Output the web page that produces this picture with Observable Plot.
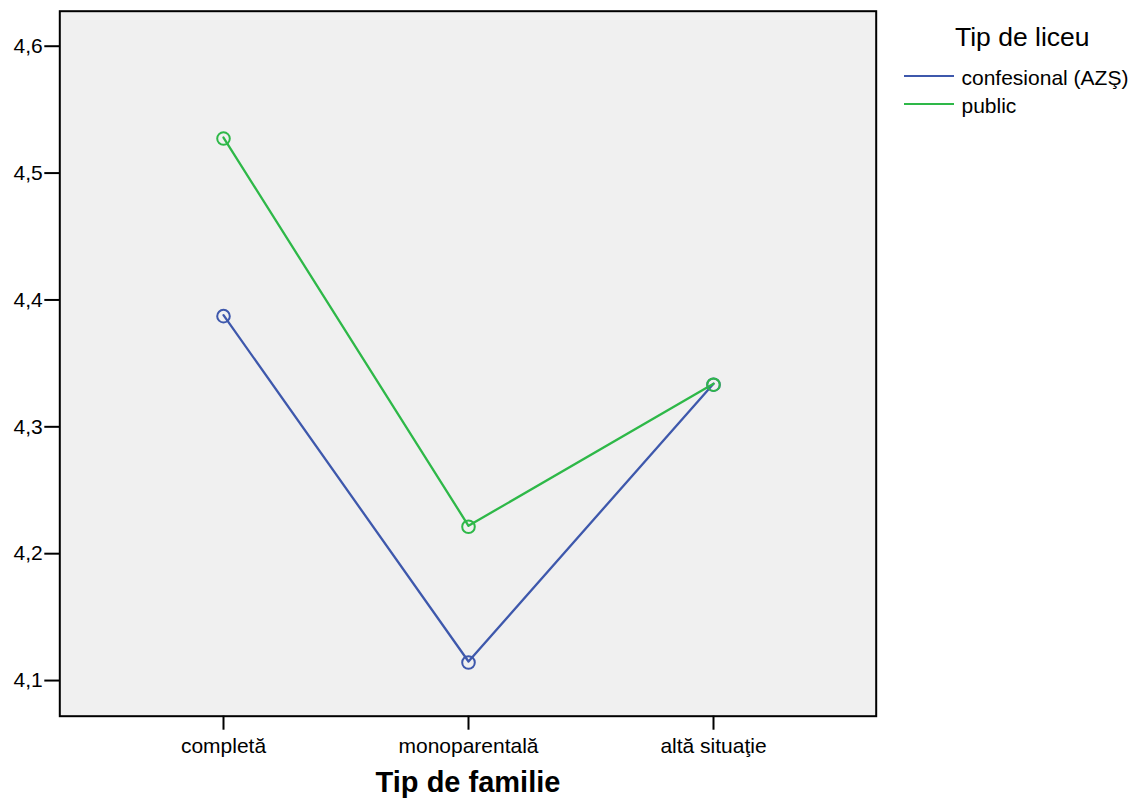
<!DOCTYPE html>
<html><head><meta charset="utf-8">
<script src="https://cdn.jsdelivr.net/npm/d3@7"></script>
<script src="https://cdn.jsdelivr.net/npm/@observablehq/plot@0.6"></script>
<style>
body{margin:0;background:#fff;font-family:"Liberation Sans",Arial,sans-serif;}
#wrap{position:relative;width:1147px;height:798px;}
.lg{position:absolute;white-space:nowrap;line-height:1;color:#000;}
.sw{position:absolute;height:2px;width:50px;}
</style></head><body><div id="wrap"><div id="chart"></div></div>
<script>
const categories = ["completă", "monoparentală", "altă situaţie"];
const seriesNames = ["confesional (AZŞ)", "public"];
const confesional = [4.388, 4.115, 4.334];
const publicVals = [4.528, 4.222, 4.334];
const yTicks = [4.1, 4.2, 4.3, 4.4, 4.5, 4.6];
const colors = ["#3e58ac", "#2eb848"];
const xTitle = "Tip de familie";
const legendTitle = "Tip de liceu";

const rows = [];
seriesNames.forEach((s, si) => {
  const vals = si === 0 ? confesional : publicVals;
  categories.forEach((c, i) => rows.push({cat: c, val: vals[i], s}));
});

const chart = Plot.plot({
  width: 1147,
  height: 798,
  marginLeft: 59.3,
  marginRight: 271.3,
  marginTop: 10.7,
  marginBottom: 82.3,
  style: {fontFamily: "Liberation Sans, Arial, sans-serif", background: "white", color: "black"},
  x: {type: "point", domain: categories, padding: 0.666, axis: null},
  y: {domain: [4.0719, 4.6276], axis: null},
  color: {domain: seriesNames, range: colors},
  marks: [
    Plot.frame({fill: "#f0f0f0", stroke: "none"}),
    Plot.line(rows, {x: "cat", y: "val", stroke: "s", z: "s", strokeWidth: 2.3}),
    Plot.dot(rows, {x: "cat", y: "val", stroke: "s", r: 6.3, strokeWidth: 2, dy: 1}),
    Plot.frame({stroke: "black", strokeWidth: 2}),
    Plot.axisY({ticks: yTicks, tickFormat: d => d3.format(".1f")(d).replace(".", ","), tickSize: 15, tickPadding: 2, fontSize: 21, strokeWidth: 2, label: null}),
    Plot.axisX({tickSize: 14, tickPadding: 8, fontSize: 21, strokeWidth: 2, label: null}),
    Plot.text([xTitle], {frameAnchor: "bottom", lineAnchor: "bottom", dy: 75.3, fontSize: 29, fontWeight: "bold", text: d => d})
  ]
});
const wrap = document.getElementById("wrap");
document.getElementById("chart").appendChild(chart);

function addText(txt, left, top, size) {
  const d = document.createElement("div");
  d.className = "lg"; d.textContent = txt;
  d.style.left = left + "px"; d.style.top = top + "px"; d.style.fontSize = size + "px";
  wrap.appendChild(d);
}
addText(legendTitle, 955, 24.3, 26.5);
seriesNames.forEach((s, i) => {
  const sw = document.createElement("div");
  sw.className = "sw"; sw.style.background = colors[i];
  sw.style.left = "904px"; sw.style.top = (75 + i * 28) + "px";
  wrap.appendChild(sw);
  addText(s, 961.5, 67.2 + i * 28, 21);
});
</script></body></html>
